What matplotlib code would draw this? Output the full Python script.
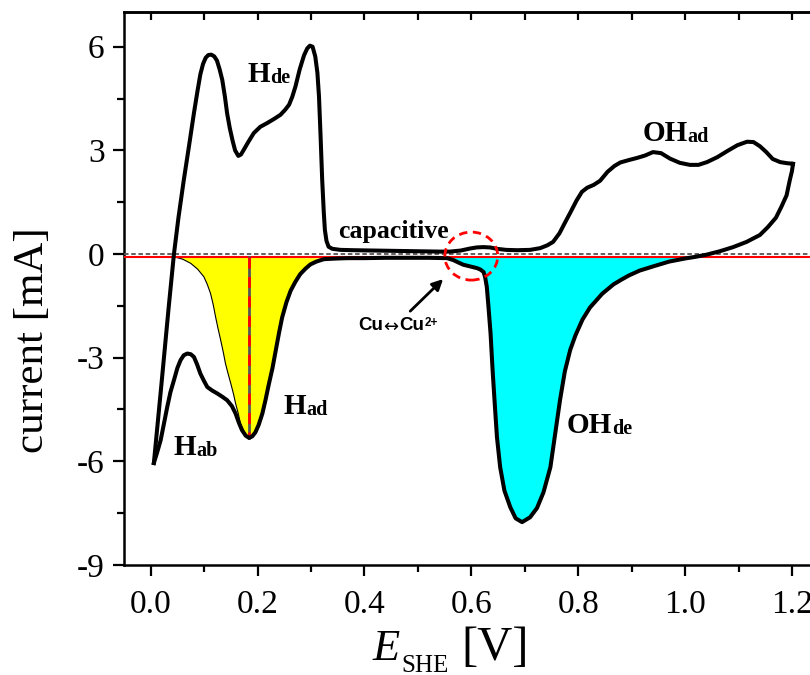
import numpy as np
import matplotlib
matplotlib.use("Agg")
import matplotlib.pyplot as plt
from matplotlib.patches import Ellipse
from matplotlib.ticker import MultipleLocator, FormatStrFormatter

plt.rcParams['font.family'] = ['Liberation Serif', 'DejaVu Serif']
plt.rcParams['axes.unicode_minus'] = False

# anodic sweep (positive going), E in V vs SHE, current in mA
anod_x = [0.006, 0.020, 0.034, 0.0436, 0.052, 0.062, 0.072, 0.081, 0.088, 0.093,
          0.098, 0.103, 0.108, 0.1135, 0.119, 0.124, 0.129, 0.134, 0.139, 0.143,
          0.148, 0.153, 0.158, 0.164, 0.169, 0.174, 0.183, 0.193, 0.205, 0.218,
          0.230, 0.243, 0.252, 0.259, 0.265, 0.271, 0.279, 0.287, 0.293, 0.298,
          0.303, 0.308, 0.312, 0.315, 0.318, 0.321, 0.324, 0.326, 0.329, 0.333,
          0.340, 0.355, 0.38, 0.42, 0.46, 0.50, 0.54, 0.56, 0.58, 0.598,
          0.610, 0.622, 0.635, 0.648, 0.665, 0.686, 0.71, 0.729, 0.742, 0.753,
          0.765, 0.775, 0.785, 0.797, 0.807, 0.817, 0.829, 0.841, 0.855, 0.868,
          0.879, 0.895, 0.910, 0.925, 0.940, 0.955, 0.972, 0.990, 1.009, 1.025,
          1.041, 1.060, 1.079, 1.098, 1.116, 1.128, 1.140, 1.152, 1.164, 1.178,
          1.190, 1.202]
anod_y = [-6.05, -3.80, -1.50, 0.00, 1.05, 2.14, 3.15, 4.08, 4.75, 5.20,
          5.50, 5.68, 5.76, 5.77, 5.72, 5.60, 5.35, 5.04, 4.55, 4.08,
          3.65, 3.30, 3.00, 2.84, 2.88, 3.01, 3.25, 3.50, 3.68, 3.79,
          3.90, 4.03, 4.18, 4.32, 4.55, 4.85, 5.35, 5.75, 5.95, 6.03,
          6.00, 5.72, 5.25, 4.56, 3.40, 2.14, 1.20, 0.70, 0.38, 0.21,
          0.15, 0.12, 0.11, 0.10, 0.09, 0.08, 0.07, 0.07, 0.10, 0.16,
          0.19, 0.20, 0.19, 0.15, 0.12, 0.11, 0.12, 0.17, 0.25, 0.35,
          0.60, 0.90, 1.19, 1.55, 1.80, 1.92, 2.00, 2.12, 2.38, 2.55,
          2.65, 2.72, 2.78, 2.85, 2.95, 2.92, 2.76, 2.64, 2.58, 2.58,
          2.66, 2.80, 2.98, 3.15, 3.25, 3.24, 3.12, 2.95, 2.75, 2.66,
          2.63, 2.61]

# cathodic sweep (negative going)
cath_x = [1.202, 1.200, 1.196, 1.190, 1.180, 1.170, 1.155, 1.140, 1.115, 1.090,
          1.065, 1.040, 1.020, 1.000, 0.970, 0.940, 0.915, 0.895, 0.880, 0.866,
          0.845, 0.822, 0.808, 0.795, 0.785, 0.775, 0.766, 0.757, 0.748, 0.735,
          0.723, 0.710, 0.695, 0.683, 0.673, 0.662, 0.654, 0.648, 0.645, 0.640,
          0.636, 0.632, 0.629, 0.626, 0.623, 0.617, 0.611, 0.598, 0.585, 0.575,
          0.567, 0.555, 0.52, 0.48, 0.44, 0.40, 0.37, 0.349, 0.336, 0.324,
          0.310, 0.299, 0.290, 0.280, 0.271, 0.262, 0.254, 0.246, 0.240, 0.234,
          0.228, 0.221, 0.215, 0.209, 0.202, 0.196, 0.190, 0.184, 0.178, 0.171,
          0.165, 0.159, 0.152, 0.143, 0.134, 0.125, 0.115, 0.106, 0.100, 0.093,
          0.087, 0.081, 0.075, 0.0686, 0.062, 0.056, 0.050, 0.0436, 0.037, 0.031,
          0.025, 0.0187, 0.012, 0.006]
cath_y = [2.61, 2.40, 2.14, 1.70, 1.36, 1.05, 0.78, 0.55, 0.35, 0.20,
          0.08, -0.02, -0.08, -0.13, -0.22, -0.36, -0.48, -0.62, -0.75, -0.88,
          -1.15, -1.55, -1.90, -2.35, -2.78, -3.40, -4.23, -5.20, -6.17, -6.90,
          -7.35, -7.62, -7.76, -7.65, -7.33, -6.85, -6.17, -5.30, -4.60, -3.40,
          -2.29, -1.50, -0.95, -0.68, -0.52, -0.45, -0.41, -0.36, -0.31, -0.24,
          -0.18, -0.12, -0.11, -0.11, -0.11, -0.12, -0.12, -0.13, -0.14, -0.15,
          -0.22, -0.30, -0.42, -0.58, -0.80, -1.06, -1.40, -1.84, -2.30, -2.80,
          -3.30, -3.78, -4.22, -4.62, -4.95, -5.16, -5.28, -5.32, -5.26, -5.10,
          -4.88, -4.62, -4.40, -4.23, -4.13, -4.04, -3.95, -3.85, -3.68, -3.46,
          -3.20, -2.98, -2.90, -2.88, -2.93, -3.07, -3.30, -3.65, -4.00, -4.43,
          -4.90, -5.39, -5.75, -6.05]

# left flank of the deconvoluted H adsorption peak (thin line)
had_left_x = [0.0436, 0.060, 0.075, 0.088, 0.0996, 0.106, 0.112, 0.117, 0.1215, 0.126,
              0.131, 0.136, 0.140, 0.145, 0.150, 0.155, 0.159, 0.164, 0.168, 0.176,
              0.184]
had_left_y = [-0.08, -0.15, -0.27, -0.44, -0.66, -0.88, -1.14, -1.46, -1.82, -2.15,
              -2.49, -2.85, -3.17, -3.47, -3.75, -4.05, -4.33, -4.62, -4.91, -5.18,
              -5.32]

had_peak_x = 0.184
had_peak_y = -5.32
had_end_x = 0.35
baseline = -0.1
oh_range = (0.55, 1.06)

fig = plt.figure(figsize=(8.1, 6.75), dpi=100)
ax = fig.add_axes([0.153, 0.163, 0.8577, 0.819])

cx = np.array(cath_x)
cy = np.array(cath_y)

# H adsorption area (yellow)
mask = (cx <= had_end_x) & (cx >= had_peak_x)
seg_x = cx[mask][::-1]
seg_y = cy[mask][::-1]
ax.fill(np.concatenate([had_left_x, seg_x]), np.concatenate([had_left_y, seg_y]),
        color='#ffff00', lw=0, zorder=1)
ax.plot(had_left_x, had_left_y, color='k', lw=0.8, zorder=2)

# OH desorption area (cyan)
ax.fill_between(cx, cy, baseline,
                where=(cx >= oh_range[0]) & (cx <= oh_range[1]) & (cy < baseline),
                interpolate=True, color='#00ffff', lw=0, zorder=1)

ax.axhline(0, color='#555555', lw=1.3, ls=(0, (2.5, 1.5)), zorder=3)
ax.axhline(baseline, color='red', lw=1.5, zorder=3)

ax.plot([had_peak_x, had_peak_x], [baseline, had_peak_y], color='#555555', lw=2, zorder=3)
ax.plot([had_peak_x, had_peak_x], [baseline, had_peak_y], color='red', lw=2,
        ls=(0, (4, 3)), zorder=3)

ax.plot(anod_x, anod_y, color='k', lw=2.9, zorder=4, solid_joinstyle='round')
ax.plot(cath_x, cath_y, color='k', lw=2.9, zorder=4, solid_joinstyle='round')

ax.add_patch(Ellipse((0.6, -0.06), 0.099, 1.39, fill=False, edgecolor='red',
                     lw=2, ls=(0, (3, 2)), zorder=5))
ax.annotate('', xy=(0.551, -0.67), xytext=(0.482, -1.71),
            arrowprops=dict(arrowstyle='-|>', color='k', lw=2, mutation_scale=16),
            zorder=5)


def peak_label(x, y, big, small):
    t = ax.text(x, y, big, fontsize=21, fontweight='bold')
    ax.annotate(small, xy=(1, 0), xycoords=t, va='bottom', ha='left',
                fontsize=14.5, fontweight='bold')


peak_label(0.181, 4.99, 'H', 'de')
peak_label(0.043, -5.83, 'H', 'ab')
peak_label(0.249, -4.64, 'H', 'ad')
peak_label(0.779, -5.19, 'OH', 'de')
peak_label(0.92, 3.27, 'OH', 'ad')
ax.text(0.35, 0.46, 'capacitive', fontsize=18.5, fontweight='bold')

sans = ['Liberation Sans', 'DejaVu Sans']
cu1 = ax.text(0.389, -2.2, 'Cu', fontsize=13.5, fontweight='bold', family=sans)
ax.annotate('\u2194', xy=(1, 0.42), xycoords=cu1, va='center', ha='left',
            fontsize=13, family=['DejaVu Sans'])
cu2 = ax.annotate('Cu', xy=(1, 0), xycoords=cu1, xytext=(11.5, 0),
                  textcoords='offset points', va='bottom', ha='left',
                  fontsize=13.5, fontweight='bold', family=sans)
ax.annotate('2+', xy=(1, 1), xycoords=cu2, va='top', ha='left', fontsize=8.5,
            fontweight='bold', family=sans)

ax.set_xlim(-0.05, 1.25)
ax.set_ylim(-9, 7)
ax.set_yticks([-9, -6, -3, 0, 3, 6])
ax.xaxis.set_major_locator(MultipleLocator(0.2))
ax.xaxis.set_minor_locator(MultipleLocator(0.1))
ax.yaxis.set_minor_locator(MultipleLocator(1.5))
ax.xaxis.set_major_formatter(FormatStrFormatter('%.1f'))
ax.tick_params(which='both', direction='out', width=1.6, labelsize=24)
ax.tick_params(which='major', length=8, pad=6)
ax.tick_params(which='minor', length=5)
ax.tick_params(axis='x', which='major', pad=10)

top = ax.secondary_xaxis('top')
top.xaxis.set_major_locator(MultipleLocator(0.1))
top.tick_params(direction='in', length=6, width=1.6, labelsize=0)
top.set_xticklabels([])
top.spines['top'].set_linewidth(1.8)

for s in ['left', 'bottom', 'top']:
    ax.spines[s].set_linewidth(1.8)

ax.set_ylabel('current [mA]', fontsize=31)
ax.yaxis.set_label_coords(-0.131, 0.406)
ax.yaxis.label.set_verticalalignment('center')

# x label: italic E with a small SHE subscript, then the unit
ax.text(0.3584, -0.1718, 'E', transform=ax.transAxes, fontsize=32, style='italic')
ax.text(0.400, -0.1935, 'SHE', transform=ax.transAxes, fontsize=18)
ax.text(0.486, -0.1718, '[V]', transform=ax.transAxes, fontsize=35)

fig.savefig('out.png', dpi=100)
